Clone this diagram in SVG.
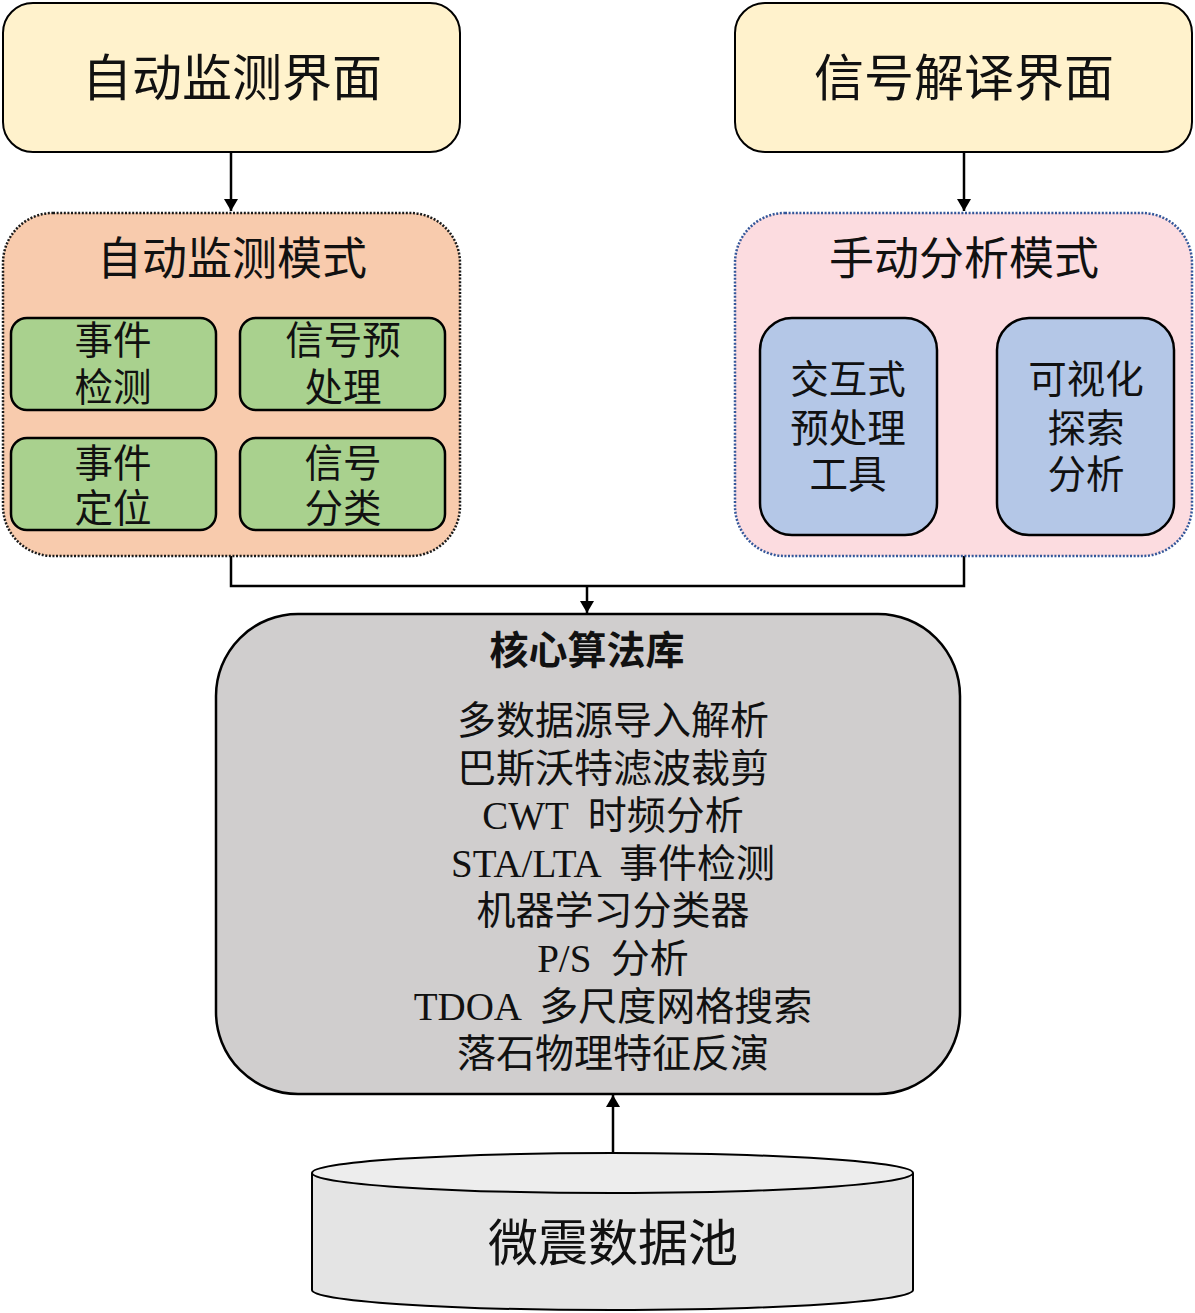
<svg xmlns="http://www.w3.org/2000/svg" width="1195" height="1313" viewBox="0 0 1195 1313">
<style>
text{font-family:"Liberation Serif","Noto Sans CJK SC",serif;fill:#111;text-anchor:middle;white-space:pre}
.t1{font-size:50px}
.t2{font-size:45px}
.t3{font-size:38.5px}
.t4{font-size:39px}
.bold{font-weight:bold}
.edge{fill:none;stroke:#000;stroke-width:2.5}
</style>
<defs>
<marker id="ah" viewBox="0 0 12 14" refX="12" refY="7" markerWidth="12" markerHeight="14" markerUnits="userSpaceOnUse" orient="auto">
<path d="M0,0 L12,7 L0,14 Z" fill="#000"/>
</marker>
</defs>
<rect x="0" y="0" width="1195" height="1313" fill="#fff"/>

<g id="connectors">
<path class="edge" d="M231,152 V211" marker-end="url(#ah)"/>
<path class="edge" d="M964,152 V211" marker-end="url(#ah)"/>
<path class="edge" d="M231,556 V586 H964 V556"/>
<path class="edge" d="M587,586 V613" marker-end="url(#ah)"/>
<path class="edge" d="M613,1153 V1095" marker-end="url(#ah)"/>
</g>

<g id="auto-ui">
<rect x="3" y="3" width="457" height="149" rx="30" fill="#FFF2CC" stroke="#000" stroke-width="2"/>
<text class="t1" x="232" y="96">自动监测界面</text>
</g>
<g id="decode-ui">
<rect x="735" y="3" width="457" height="149" rx="30" fill="#FFF2CC" stroke="#000" stroke-width="2"/>
<text class="t1" x="964" y="96">信号解译界面</text>
</g>

<g id="auto-mode">
<rect x="3" y="213" width="457" height="343" rx="50" fill="#F8CBAD" stroke="#1a1a1a" stroke-width="2.5" stroke-dasharray="2 1.6"/>
<text class="t2" x="232" y="275">自动监测模式</text>
</g>
<g id="event-detect">
<rect x="11" y="318" width="205" height="92" rx="16" fill="#A9D18E" stroke="#000" stroke-width="2.5"/>
<text class="t3" x="113" y="354">事件</text>
<text class="t3" x="113" y="401">检测</text>
</g>
<g id="signal-preproc">
<rect x="240" y="318" width="205" height="92" rx="16" fill="#A9D18E" stroke="#000" stroke-width="2.5"/>
<text class="t3" x="343" y="354">信号预</text>
<text class="t3" x="343" y="401">处理</text>
</g>
<g id="event-locate">
<rect x="11" y="438" width="205" height="92" rx="16" fill="#A9D18E" stroke="#000" stroke-width="2.5"/>
<text class="t3" x="113" y="477">事件</text>
<text class="t3" x="113" y="522">定位</text>
</g>
<g id="signal-classify">
<rect x="240" y="438" width="205" height="92" rx="16" fill="#A9D18E" stroke="#000" stroke-width="2.5"/>
<text class="t3" x="343" y="477">信号</text>
<text class="t3" x="343" y="522">分类</text>
</g>

<g id="manual-mode">
<rect x="735" y="213" width="457" height="343" rx="50" fill="#FCDCE0" stroke="#34579A" stroke-width="2.5" stroke-dasharray="2 1.6"/>
<text class="t2" x="964" y="275">手动分析模式</text>
</g>
<g id="interactive-tool">
<rect x="760" y="318" width="177" height="217" rx="32" fill="#B4C7E7" stroke="#000" stroke-width="2.5"/>
<text class="t3" x="848" y="393">交互式</text>
<text class="t3" x="848" y="442">预处理</text>
<text class="t3" x="848" y="488">工具</text>
</g>
<g id="visual-explore">
<rect x="997" y="318" width="177" height="217" rx="32" fill="#B4C7E7" stroke="#000" stroke-width="2.5"/>
<text class="t3" x="1086" y="393">可视化</text>
<text class="t3" x="1086" y="442">探索</text>
<text class="t3" x="1086" y="488">分析</text>
</g>

<g id="core-lib">
<rect x="216" y="614" width="744" height="480" rx="82" fill="#D0CECE" stroke="#000" stroke-width="2.5"/>
<text class="t4 bold" x="587" y="664">核心算法库</text>
<text class="t4" x="613" y="734">多数据源导入解析</text>
<text class="t4" x="613" y="782">巴斯沃特滤波裁剪</text>
<text class="t4" x="613" y="829">CWT  时频分析</text>
<text class="t4" x="613" y="877">STA/LTA  事件检测</text>
<text class="t4" x="613" y="924">机器学习分类器</text>
<text class="t4" x="613" y="972">P/S  分析</text>
<text class="t4" x="613" y="1020">TDOA  多尺度网格搜索</text>
<text class="t4" x="613" y="1067">落石物理特征反演</text>
</g>

<g id="data-pool">
<path d="M312,1173 V1290 A300,20 0 0 0 913,1290 V1173" fill="#E4E4E4" stroke="#000" stroke-width="2"/>
<ellipse cx="612.5" cy="1173" rx="300.5" ry="20" fill="#EDEDED" stroke="#000" stroke-width="2"/>
<text class="t1" x="613" y="1261">微震数据池</text>
</g>
</svg>
